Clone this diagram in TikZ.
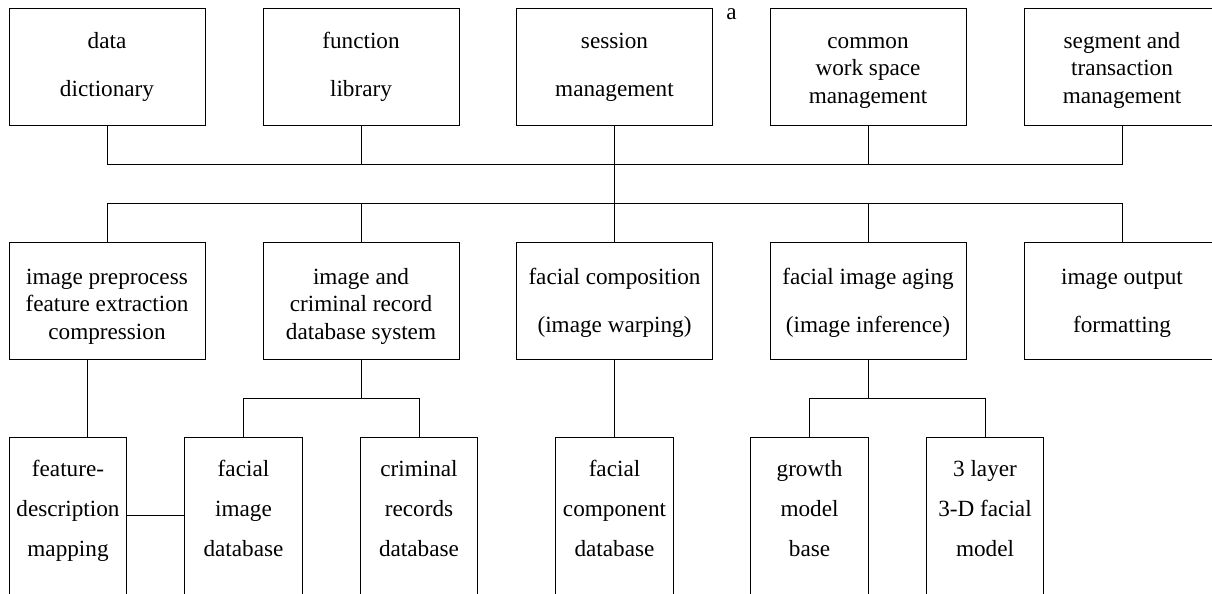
\documentclass[tikz,border=0pt]{standalone}
\usepackage{fontspec}
\setmainfont{Liberation Serif}

\begin{document}
\begin{tikzpicture}[x=0.75pt,y=0.75pt,yscale=-1,xscale=1,
	every node/.style={font=\fontsize{17.4}{20.6}\selectfont},
	topbox/.style={draw, line width=0.7pt, minimum width=147pt, minimum height=88pt, inner sep=0pt},
	lowbox/.style={draw, line width=0.7pt, minimum width=88pt, minimum height=200pt, anchor=north, inner sep=0pt},
	boxtext/.style={align=center, inner sep=0pt, anchor=north},
	wire/.style={line width=0.7pt}]
	%set diagram to 1212 x 593, the lowest boxes run off the page
	\useasboundingbox (0,0) rectangle (1212,593);
	\clip (0,0) rectangle (1212,593);
	
	%Buses [id:topbus, midbus, lowbus]
	\coordinate (topbus) at (614.5,164);
	\coordinate (midbus) at (614.5,203);
	\coordinate (lowbus) at (0,398);
	\coordinate (predrop) at (87.3,0);
	\coordinate (linky) at (0,515);
	
	%Shape: Rectangle [top row]
	\node[topbox] (dict) at (107,67) {};
	\node[topbox] (funclib) at (361,67) {};
	\node[topbox] (session) at (614.5,67) {};
	\node[topbox] (workspace) at (868,67) {};
	\node[topbox] (segment) at (1122,67) {};
	
	%Shape: Rectangle [middle row]
	\node[topbox] (preproc) at (107,301) {};
	\node[topbox] (imgdb) at (361,301) {};
	\node[topbox] (compose) at (614.5,301) {};
	\node[topbox] (aging) at (868,301) {};
	\node[topbox] (output) at (1122,301) {};
	
	%Shape: Rectangle [bottom row]
	\node[lowbox] (featmap) at (68,437.3) {};
	\node[lowbox] (facedb) at (243.5,437.3) {};
	\node[lowbox] (crimdb) at (419,437.3) {};
	\node[lowbox] (compdb) at (614.5,437.3) {};
	\node[lowbox] (growth) at (809.5,437.3) {};
	\node[lowbox] (layer3) at (985,437.3) {};
	
	% Text Node
	\node[boxtext] (dicttext) at (107,29) {\strut data\\[15.1pt]dictionary};
	% Text Node
	\node[boxtext] (funclibtext) at (361,29) {\strut function\\[15.1pt]library};
	% Text Node
	\node[boxtext] (sessiontext) at (614.5,29) {\strut session\\[15.1pt]management};
	% Text Node
	\node[boxtext] (workspacetext) at (868,29) {\strut common\\work space\\management};
	% Text Node
	\node[boxtext] (segmenttext) at (1122,29) {\strut segment and\\transaction\\management};
	% Text Node
	\node[boxtext] (preproctext) at (107,265) {\strut image preprocess\\feature extraction\\compression};
	% Text Node
	\node[boxtext] (imgdbtext) at (361,265) {\strut image and\\criminal record\\database system};
	% Text Node
	\node[boxtext] (composetext) at (614.5,265) {\strut facial composition\\[15.1pt](image warping)};
	% Text Node
	\node[boxtext] (agingtext) at (868,265) {\strut facial image aging\\[15.1pt](image inference)};
	% Text Node
	\node[boxtext] (outputtext) at (1122,265) {\strut image output\\[15.1pt]formatting};
	% Text Node
	\node[boxtext] (featmaptext) at (68,457) {\strut feature-\\[9.4pt]description\\[9.4pt]mapping};
	% Text Node
	\node[boxtext] (facedbtext) at (243.5,457) {\strut facial\\[9.4pt]image\\[9.4pt]database};
	% Text Node
	\node[boxtext] (crimdbtext) at (419,457) {\strut criminal\\[9.4pt]records\\[9.4pt]database};
	% Text Node
	\node[boxtext] (compdbtext) at (614.5,457) {\strut facial\\[9.4pt]component\\[9.4pt]database};
	% Text Node
	\node[boxtext] (growthtext) at (809.5,457) {\strut growth\\[9.4pt]model\\[9.4pt]base};
	% Text Node
	\node[boxtext] (layer3text) at (985,457) {\strut 3 layer\\[9.4pt]3-D facial\\[9.4pt]model};
	% Text Node
	\node (alabel) at (731.6,14) {a};
	
	%Straight Lines [top bus]
	\draw[wire] (dict.south) |- (segment.south |- topbus) -- (segment.south);
	\draw[wire] (funclib.south) -- (funclib.south |- topbus);
	\draw[wire] (workspace.south) -- (workspace.south |- topbus);
	\draw[wire] (session.south) -- (compose.north);
	
	%Straight Lines [middle bus]
	\draw[wire] (preproc.north) |- (output.north |- midbus) -- (output.north);
	\draw[wire] (imgdb.north) -- (imgdb.north |- midbus);
	\draw[wire] (aging.north) -- (aging.north |- midbus);
	
	%Straight Lines [to bottom row]
	\draw[wire] (preproc.south -| predrop) -- (featmap.north -| predrop);
	\draw[wire] (imgdb.south) -- (imgdb.south |- lowbus);
	\draw[wire] (facedb.north) |- (crimdb.north |- lowbus) -- (crimdb.north);
	\draw[wire] (compose.south) -- (compdb.north);
	\draw[wire] (aging.south) -- (aging.south |- lowbus);
	\draw[wire] (growth.north) |- (layer3.north |- lowbus) -- (layer3.north);
	\draw[wire] (featmap.east |- linky) -- (facedb.west |- linky);
	
\end{tikzpicture}
\end{document}
